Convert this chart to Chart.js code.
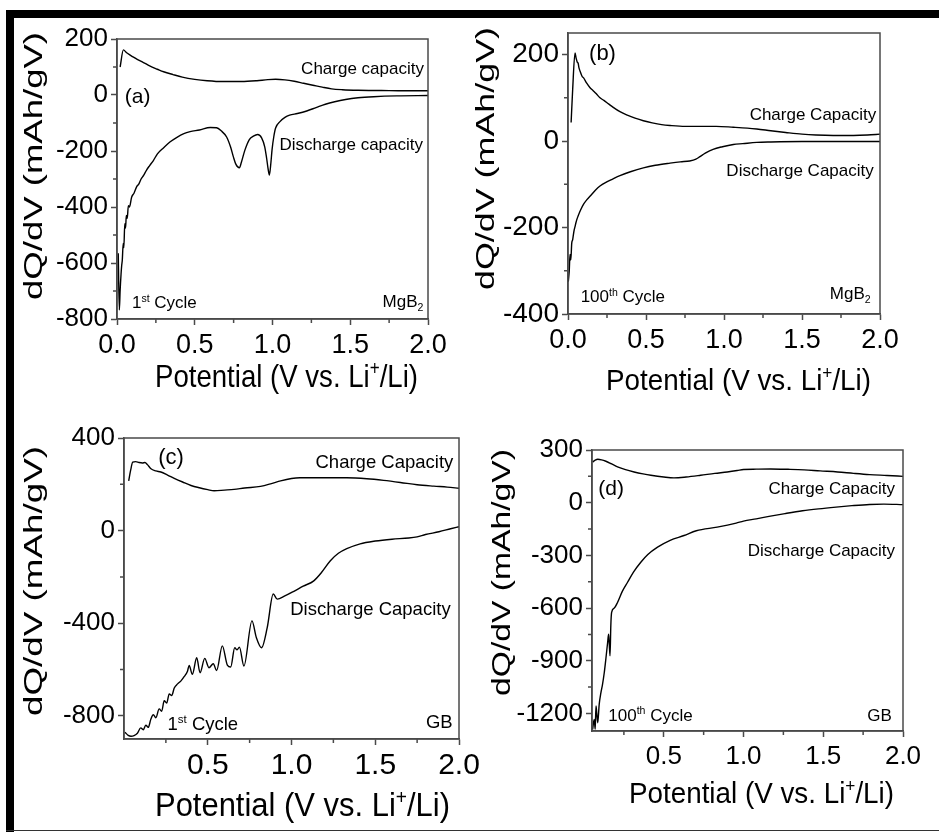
<!DOCTYPE html>
<html>
<head>
<meta charset="utf-8">
<title>dQ/dV profiles of MgB2 and GB</title>
<script src="https://cdn.jsdelivr.net/npm/chart.js@4.4.1/dist/chart.umd.min.js"></script>
<style>
  body { margin: 0; background: #fff; }
  #fig { position: relative; width: 939px; height: 832px; background: #fff; overflow: hidden; }
  #fig canvas { position: absolute; }
  .bar { position: absolute; background: #000; }
</style>
</head>
<body>
<div id="fig">
  <div class="bar" style="left:6px;top:10px;width:933px;height:8px"></div>
  <div class="bar" style="left:6px;top:10px;width:8px;height:822px"></div>
  <div class="bar" style="left:6px;top:830px;width:933px;height:1px;background:#333"></div>
  <canvas id="pa" width="455" height="416" style="left:14px;top:0px"></canvas>
  <canvas id="pb" width="470" height="416" style="left:469px;top:0px"></canvas>
  <canvas id="pc" width="485" height="414" style="left:14px;top:416px"></canvas>
  <canvas id="pd" width="470" height="414" style="left:469px;top:416px"></canvas>
</div>
<script>
// ---- data: [potential (V), dQ/dV (mAh/gV)] ----
const aCharge = [[0.02,100],[0.041,161],[0.06,152],[0.08,144],[0.1,137],[0.13,127],[0.17,116],[0.21,104],[0.26,92],[0.3,83],[0.36,73],[0.42,64],[0.5,56],[0.58,51],[0.68,48],[0.8,48],[0.9,51],[0.97,55],[1.02,56],[1.08,54],[1.14,49],[1.2,42],[1.26,35],[1.32,28],[1.38,22],[1.45,19],[1.55,17],[1.7,16],[1.85,15],[2.0,15]];
const aDischarge = [[0.008,-565],[0.015,-768],[0.02,-700],[0.026,-640],[0.03,-610],[0.034,-590],[0.04,-530],[0.044,-545],[0.05,-460],[0.055,-475],[0.06,-430],[0.066,-440],[0.073,-395],[0.08,-400],[0.094,-365],[0.11,-350],[0.126,-328],[0.14,-318],[0.155,-300],[0.17,-288],[0.19,-268],[0.21,-252],[0.234,-234],[0.26,-210],[0.3,-188],[0.34,-168],[0.383,-152],[0.43,-138],[0.47,-131],[0.53,-125],[0.6,-116],[0.64,-117],[0.67,-128],[0.705,-150],[0.73,-185],[0.748,-220],[0.765,-248],[0.787,-260],[0.8,-240],[0.823,-196],[0.85,-160],[0.877,-147],[0.905,-141],[0.93,-153],[0.95,-185],[0.962,-225],[0.972,-265],[0.98,-286],[0.99,-240],[0.997,-196],[1.008,-150],[1.02,-118],[1.048,-95],[1.08,-80],[1.11,-72],[1.16,-66],[1.22,-57],[1.28,-45],[1.34,-33],[1.4,-24],[1.47,-16],[1.55,-10],[1.65,-6],[1.8,-3],[2.0,-2]];

const bCharge = [[0.02,43],[0.03,120],[0.045,204],[0.052,192],[0.06,182],[0.065,180],[0.07,170],[0.077,162],[0.09,150],[0.1,146],[0.12,134],[0.14,124],[0.16,117],[0.18,110],[0.205,100],[0.23,94],[0.26,86],[0.29,78],[0.333,68],[0.38,60],[0.43,53],[0.483,47],[0.54,42],[0.6,38],[0.654,36],[0.75,34],[0.846,34],[0.95,34],[1.06,32],[1.15,30],[1.21,28],[1.3,24],[1.395,20],[1.5,16],[1.59,14],[1.7,13],[1.83,13],[1.92,14],[2.0,16]];
const bDischarge = [[0.002,-325],[0.008,-300],[0.013,-262],[0.018,-275],[0.024,-236],[0.03,-228],[0.034,-218],[0.04,-205],[0.045,-198],[0.05,-190],[0.058,-180],[0.066,-172],[0.08,-160],[0.1,-146],[0.12,-136],[0.15,-124],[0.177,-113],[0.205,-104],[0.24,-96],[0.28,-89],[0.333,-80],[0.4,-71],[0.483,-62],[0.56,-56],[0.654,-51],[0.72,-48],[0.78,-46],[0.82,-42],[0.846,-36],[0.88,-28],[0.93,-19],[0.99,-13],[1.06,-8],[1.12,-6],[1.21,-3],[1.3,-2],[1.5,-1],[1.8,-1],[2.0,-1]];

const cCharge = [[0.028,215],[0.04,262],[0.052,296],[0.07,298],[0.09,294],[0.11,292],[0.125,294],[0.14,285],[0.161,267],[0.19,258],[0.22,253],[0.26,240],[0.3,226],[0.35,210],[0.4,195],[0.45,185],[0.5,177],[0.538,172],[0.6,175],[0.657,178],[0.72,184],[0.815,191],[0.88,203],[0.935,215],[1.0,225],[1.05,228],[1.13,228],[1.23,228],[1.33,228],[1.45,224],[1.55,217],[1.65,208],[1.75,198],[1.85,192],[1.93,188],[2.0,183]];
const cDischarge = [[0.006,-871],[0.025,-884],[0.042,-888],[0.06,-885],[0.08,-875],[0.1,-852],[0.115,-860],[0.13,-840],[0.145,-850],[0.16,-815],[0.175,-795],[0.19,-808],[0.21,-770],[0.225,-780],[0.24,-735],[0.255,-745],[0.27,-705],[0.285,-712],[0.3,-680],[0.32,-662],[0.339,-650],[0.36,-630],[0.379,-607],[0.389,-582],[0.408,-621],[0.434,-549],[0.454,-614],[0.482,-552],[0.507,-592],[0.533,-575],[0.553,-604],[0.587,-498],[0.617,-581],[0.637,-589],[0.661,-506],[0.675,-515],[0.689,-503],[0.716,-585],[0.764,-390],[0.79,-462],[0.821,-506],[0.855,-419],[0.891,-274],[0.915,-296],[0.96,-282],[1.014,-262],[1.07,-240],[1.133,-217],[1.18,-180],[1.232,-130],[1.28,-98],[1.33,-78],[1.41,-57],[1.5,-45],[1.6,-37],[1.7,-32],[1.75,-27],[1.8,-17],[1.88,-5],[1.95,8],[2.0,17]];

const dCharge = [[0.054,232],[0.07,242],[0.086,247],[0.11,244],[0.137,236],[0.17,222],[0.21,204],[0.26,188],[0.314,175],[0.37,164],[0.419,156],[0.5,146],[0.564,141],[0.64,146],[0.731,156],[0.82,167],[0.898,175],[0.96,183],[1.0,189],[1.08,191],[1.17,192],[1.28,190],[1.38,187],[1.48,181],[1.59,175],[1.69,167],[1.79,160],[1.9,155],[2.0,150]];
const dDischarge = [[0.054,-1291],[0.06,-1250],[0.064,-1234],[0.07,-1290],[0.075,-1158],[0.08,-1200],[0.086,-1253],[0.095,-1150],[0.106,-1082],[0.115,-1040],[0.127,-967],[0.138,-880],[0.148,-796],[0.154,-749],[0.158,-800],[0.163,-872],[0.168,-700],[0.173,-625],[0.19,-600],[0.21,-568],[0.24,-505],[0.273,-453],[0.31,-395],[0.356,-339],[0.4,-295],[0.461,-253],[0.54,-214],[0.627,-187],[0.704,-160],[0.835,-139],[0.954,-116],[1.0,-105],[1.08,-92],[1.16,-78],[1.26,-62],[1.37,-46],[1.47,-35],[1.58,-25],[1.68,-17],[1.79,-10],[1.88,-8],[2.0,-11]];

// tick values
const xTicksTop = [0, 0.5, 1, 1.5, 2];
const xTicksBottom = [0.5, 1, 1.5, 2];
const xMinor = [0.25, 0.75, 1.25, 1.75];
const yTicksA = [-800, -600, -400, -200, 0, 200];
const yMinorA = [-700, -500, -300, -100, 100];
const yTicksB = [-400, -200, 0, 200];
const yMinorB = [-300, -100, 100];
const yTicksC = [-800, -400, 0, 400];
const yMinorC = [-600, -200, 200];
const yTicksD = [-1200, -900, -600, -300, 0, 300];
const yMinorD = [-1050, -750, -450, -150, 150];

const FONT = '"Liberation Sans", Arial, Helvetica, sans-serif';
const AXIS = '#4a4a4a';
const xTitleText = [['Potential (V vs. Li'], ['+', 'sup'], ['/Li)']];
const yTitleText = [['dQ/dV (mAh/gV)']];

function fontFor(size, kind) { return (kind ? size * 0.62 : size) + 'px ' + FONT; }

function richWidth(ctx, parts, size) {
  let w = 0;
  parts.forEach(([t, k]) => { ctx.font = fontFor(size, k); w += ctx.measureText(t).width; });
  return w;
}

// draws text with super/subscripts; y is the middle of the capitals
function drawRich(ctx, parts, size, x, y, align, width, vertical) {
  const w = richWidth(ctx, parts, size);
  const sx = width ? width / w : 1;
  ctx.save();
  ctx.translate(x, y);
  if (vertical) ctx.rotate(-Math.PI / 2);
  ctx.scale(sx, 1);
  let cx = align === 'left' ? 0 : align === 'right' ? -w : -w / 2;
  const base = size * 0.36;
  ctx.fillStyle = '#000';
  ctx.textAlign = 'left';
  ctx.textBaseline = 'alphabetic';
  parts.forEach(([t, k]) => {
    ctx.font = fontFor(size, k);
    const dy = k === 'sup' ? -size * 0.36 : k === 'sub' ? size * 0.2 : 0;
    ctx.fillText(t, cx, base + dy);
    cx += ctx.measureText(t).width;
  });
  ctx.restore();
}

const panelDecor = {
  id: 'panelDecor',
  afterDraw(chart, args, o) {
    const ctx = chart.ctx, a = chart.chartArea;
    const xs = chart.scales.x, ys = chart.scales.y;
    ctx.save();
    ctx.strokeStyle = AXIS;
    ctx.lineWidth = 1.5;
    ctx.strokeRect(a.left, a.top, a.right - a.left, a.bottom - a.top);
    ctx.beginPath();
    o.xMinor.forEach(v => {
      const px = xs.getPixelForValue(v);
      ctx.moveTo(px, a.bottom); ctx.lineTo(px, a.bottom + 4);
    });
    o.yMinor.forEach(v => {
      const py = ys.getPixelForValue(v);
      ctx.moveTo(a.left, py); ctx.lineTo(a.left - 4, py);
    });
    ctx.stroke();
    o.notes.forEach(n => {
      drawRich(ctx, n.t, n.size || o.noteSize, xs.getPixelForValue(n.x), ys.getPixelForValue(n.y), n.align);
    });
    const t = o.titles;
    drawRich(ctx, xTitleText, t.xs, (a.left + a.right) / 2 + t.xdx, a.bottom + t.xdy, 'center', t.xw);
    drawRich(ctx, yTitleText, t.ys, a.left + t.ydx, (a.top + a.bottom) / 2 + t.ydy, 'center', t.yw, true);
    ctx.restore();
  }
};

function line(points) {
  return {
    data: points.map(([x, y]) => ({x, y})),
    borderColor: '#000',
    borderWidth: 1.4,
    pointRadius: 0,
    cubicInterpolationMode: 'monotone',
    fill: false
  };
}

function panel(id, p) {
  return new Chart(document.getElementById(id), {
    type: 'line',
    data: { datasets: [line(p.charge), line(p.discharge)] },
    options: {
      responsive: false,
      animation: false,
      events: [],
      layout: { padding: p.pad },
      plugins: {
        legend: { display: false },
        tooltip: { enabled: false },
        panelDecor: { xMinor: xMinor, yMinor: p.yMinor, notes: p.notes, noteSize: p.noteSize, titles: p.titles }
      },
      scales: {
        x: {
          type: 'linear', min: p.xMin, max: 2,
          afterBuildTicks: s => { s.ticks = p.xTicks.map(value => ({value})); },
          afterFit: s => { s.height = p.xH; },
          grid: { drawOnChartArea: false, tickLength: 6, tickColor: AXIS, tickWidth: 1.5 },
          border: { color: AXIS, width: 1.5 },
          ticks: { font: { family: FONT, size: p.xTickSize }, color: '#000', padding: p.xPad,
                   maxRotation: 0, autoSkip: false, callback: v => v.toFixed(1) }
        },
        y: {
          type: 'linear', min: p.yMin, max: p.yMax,
          afterBuildTicks: s => { s.ticks = p.yTicks.map(value => ({value})); },
          afterFit: s => { s.width = p.yW; },
          grid: { drawOnChartArea: false, tickLength: 6, tickColor: AXIS, tickWidth: 1.5 },
          border: { color: AXIS, width: 1.5 },
          ticks: { font: { family: FONT, size: p.yTickSize }, color: '#000', padding: 3,
                   autoSkip: false, callback: v => String(v) }
        }
      }
    },
    plugins: [panelDecor]
  });
}

panel('pa', {
  charge: aCharge, discharge: aDischarge,
  xMin: 0, xTicks: xTicksTop, yMin: -800, yMax: 200, yTicks: yTicksA, yMinor: yMinorA,
  pad: { top: 39, right: 41, left: 0, bottom: 0 }, yW: 103, xH: 97,
  xTickSize: 27, yTickSize: 26, xPad: 4, noteSize: 17,
  titles: { xs: 32, xw: 263, xdx: 14, xdy: 56, ys: 26, yw: 268, ydx: -84, ydy: -13 },
  notes: [
    { t: [['(a)']], size: 21, x: 0.05, y: 0, align: 'left' },
    { t: [['Charge capacity']], x: 1.974, y: 96, align: 'right' },
    { t: [['Discharge capacity']], x: 1.968, y: -175, align: 'right' },
    { t: [['1'], ['st', 'sup'], [' Cycle']], x: 0.096, y: -738, align: 'left' },
    { t: [['MgB'], ['2', 'sub']], x: 1.97, y: -736, align: 'right' }
  ]
});

panel('pb', {
  charge: bCharge, discharge: bDischarge,
  xMin: 0, xTicks: xTicksTop, yMin: -400, yMax: 250, yTicks: yTicksB, yMinor: yMinorB,
  pad: { top: 33, right: 59, left: 0, bottom: 0 }, yW: 99, xH: 102,
  xTickSize: 27, yTickSize: 28, xPad: 4, noteSize: 17,
  titles: { xs: 30, xw: 265, xdx: 14.5, xdy: 65, ys: 26, yw: 263, ydx: -83, ydy: -15 },
  notes: [
    { t: [['(b)']], size: 22, x: 0.135, y: 206, align: 'left' },
    { t: [['Charge Capacity']], x: 1.976, y: 63, align: 'right' },
    { t: [['Discharge Capacity']], x: 1.96, y: -67, align: 'right' },
    { t: [['100'], ['th', 'sup'], [' Cycle']], x: 0.081, y: -358, align: 'left' },
    { t: [['MgB'], ['2', 'sub']], x: 1.94, y: -352, align: 'right' }
  ]
});

panel('pc', {
  charge: cCharge, discharge: cDischarge,
  xMin: 0, xTicks: xTicksBottom, yMin: -900, yMax: 400, yTicks: yTicksC, yMinor: yMinorC,
  pad: { top: 22, right: 40, left: 0, bottom: 0 }, yW: 110, xH: 91,
  xTickSize: 30, yTickSize: 26, xPad: 3, noteSize: 18.5,
  titles: { xs: 32.6, xw: 295, xdx: 11, xdy: 65, ys: 26, yw: 270, ydx: -91, ydy: -7.5 },
  notes: [
    { t: [['(c)']], size: 22, x: 0.204, y: 321, align: 'left' },
    { t: [['Charge Capacity']], x: 1.966, y: 299, align: 'right' },
    { t: [['Discharge Capacity']], x: 1.95, y: -337, align: 'right' },
    { t: [['1'], ['st', 'sup'], [' Cycle']], x: 0.26, y: -832, align: 'left' },
    { t: [['GB']], x: 1.962, y: -823, align: 'right' }
  ]
});

panel('pd', {
  charge: dCharge, discharge: dDischarge,
  xMin: 0.05, xTicks: xTicksBottom, yMin: -1300, yMax: 300, yTicks: yTicksD, yMinor: yMinorD,
  pad: { top: 34, right: 36, left: 0, bottom: 0 }, yW: 123, xH: 99,
  xTickSize: 26, yTickSize: 26, xPad: 4, noteSize: 17,
  titles: { xs: 30, xw: 265, xdx: 14, xdy: 61, ys: 26, yw: 247, ydx: -91, ydy: -18 },
  notes: [
    { t: [['(d)']], size: 21, x: 0.089, y: 84, align: 'left' },
    { t: [['Charge Capacity']], x: 1.95, y: 87, align: 'right' },
    { t: [['Discharge Capacity']], x: 1.95, y: -269, align: 'right' },
    { t: [['100'], ['th', 'sup'], [' Cycle']], x: 0.152, y: -1206, align: 'left' },
    { t: [['GB']], x: 1.93, y: -1206, align: 'right' }
  ]
});
</script>
</body>
</html>
